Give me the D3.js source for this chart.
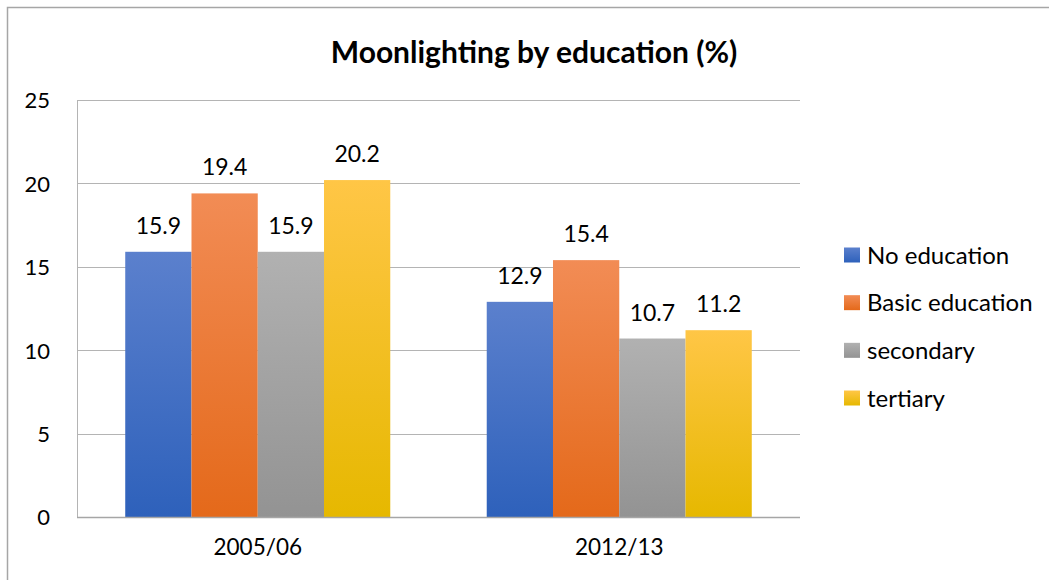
<!DOCTYPE html>
<html><head><meta charset="utf-8">
<script src="https://cdn.jsdelivr.net/npm/d3@7"></script>
<style>
html,body{margin:0;padding:0;background:#fff;}
svg{display:block;}
text{font-family:Lato,"Open Sans",sans-serif;fill:#000;}
</style></head>
<body>
<svg id="chart" width="1049" height="580"></svg>
<script>
const title = "Moonlighting by education (%)";
const categories = ["2005/06", "2012/13"];
const seriesNames = ["No education", "Basic education", "secondary", "tertiary"];
const noEducation = [15.9, 12.9];
const basicEducation = [19.4, 15.4];
const secondary = [15.9, 10.7];
const tertiary = [20.2, 11.2];
const yTicks = [0, 5, 10, 15, 20, 25];

const seriesValues = [noEducation, basicEducation, secondary, tertiary];
const gradColors = [
  ["#5b80cd", "#2e61bb"],
  ["#f28c55", "#e4691a"],
  ["#b1b1b1", "#939393"],
  ["#ffc646", "#e6b800"]
];

const svg = d3.select("#chart");
const W = 1049, H = 580;
const plot = {left: 77, right: 800, top: 100, bottom: 517};

// frame
svg.append("rect").attr("x", 7.5).attr("y", 7.5).attr("width", W + 10).attr("height", H + 10)
  .attr("fill", "#fff").attr("stroke", "#a6a6a6").attr("stroke-width", 1.5);

const defs = svg.append("defs");
gradColors.forEach((c, i) => {
  const g = defs.append("linearGradient").attr("id", "g" + i)
    .attr("x1", 0).attr("y1", 0).attr("x2", 0).attr("y2", 1);
  g.append("stop").attr("offset", "0%").attr("stop-color", c[0]);
  g.append("stop").attr("offset", "100%").attr("stop-color", c[1]);
});

const y = d3.scaleLinear().domain([0, 25]).range([plot.bottom, plot.top]);
const x0 = d3.scaleBand().domain(categories).range([plot.left, plot.right]).padding(0);
const x1 = d3.scaleBand().domain(d3.range(seriesNames.length))
  .range([0, x0.bandwidth()]).paddingOuter(0.728).paddingInner(0);

// gridlines
svg.append("g").selectAll("line").data(yTicks.filter(t => t > 0)).join("line")
  .attr("x1", plot.left).attr("x2", plot.right)
  .attr("y1", d => Math.round(y(d)) + 0.5).attr("y2", d => Math.round(y(d)) + 0.5)
  .attr("stroke", "#b4b4b4").attr("stroke-width", 1);

// y axis line
svg.append("line").attr("x1", plot.left + 0.5).attr("x2", plot.left + 0.5)
  .attr("y1", plot.top).attr("y2", plot.bottom).attr("stroke", "#b4b4b4");

// tick labels
const yAxis = d3.axisLeft(y).tickValues(yTicks).tickSize(0).tickPadding(27);
const ya = svg.append("g").attr("transform", `translate(${plot.left},0)`).call(yAxis);
ya.select(".domain").remove();
ya.selectAll("text").attr("font-size", 22).attr("font-family", "Lato").attr("fill", "#000")
  .attr("dy", "0.36em");

// bars
const groups = svg.append("g").selectAll("g").data(categories).join("g")
  .attr("transform", d => `translate(${x0(d)},0)`);
groups.selectAll("rect").data((d, ci) => seriesValues.map((s, si) => ({si, v: s[ci]}))).join("rect")
  .attr("x", d => x1(d.si)).attr("width", x1.bandwidth())
  .attr("y", d => y(d.v)).attr("height", d => y(0) - y(d.v))
  .attr("fill", d => `url(#g${d.si})`);
groups.selectAll("text.val").data((d, ci) => seriesValues.map((s, si) => ({si, v: s[ci]}))).join("text")
  .attr("class", "val")
  .attr("x", d => x1(d.si) + x1.bandwidth() / 2).attr("y", d => y(d.v) - 18)
  .attr("text-anchor", "middle").attr("font-size", 23)
  .text(d => d.v.toFixed(1));

// x axis line
svg.append("line").attr("x1", plot.left).attr("x2", plot.right)
  .attr("y1", plot.bottom + 0.5).attr("y2", plot.bottom + 0.5)
  .attr("stroke", "#a6a6a6").attr("stroke-width", 1.5);

// category labels
const xAxis = d3.axisBottom(x0).tickSize(0).tickPadding(22);
const xa = svg.append("g").attr("transform", `translate(0,${plot.bottom})`).call(xAxis);
xa.select(".domain").remove();
xa.selectAll("text").attr("font-size", 22.5).attr("font-family", "Lato").attr("fill", "#000");

// title
svg.append("text").attr("x", 534).attr("y", 63).attr("text-anchor", "middle")
  .attr("font-size", 30).attr("font-weight", "bold").text(title);

// legend
const ly = d3.scalePoint().domain(seriesNames).range([255, 398]);
const lg = svg.append("g").selectAll("g").data(seriesNames).join("g")
  .attr("transform", d => `translate(844,${ly(d)})`);
lg.append("rect").attr("x", 0).attr("y", -7.5).attr("width", 16).attr("height", 15)
  .attr("fill", (d, i) => `url(#g${i})`);
lg.append("text").attr("x", 23).attr("dy", "0.36em").attr("font-size", 24).text(d => d);
</script>
</body></html>
